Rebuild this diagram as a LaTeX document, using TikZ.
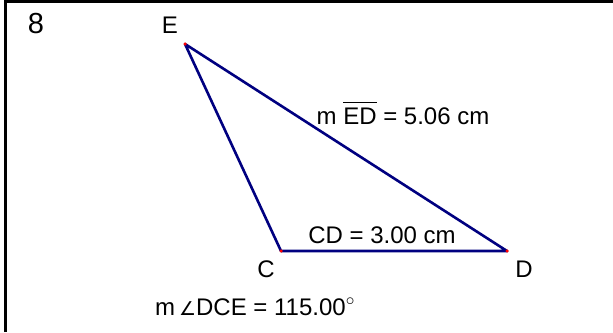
\documentclass[tikz,border=0pt]{standalone}
\usepackage{fontspec}
\setmainfont{Liberation Sans}
\newfontfamily\symbolfont{DejaVu Sans}
\usetikzlibrary{positioning}
\definecolor{segblue}{RGB}{0,0,128}

\begin{document}
\begin{tikzpicture}[
  x=1pt,y=-1pt,
  font=\fontsize{24}{28}\selectfont,
  seg/.style={draw=segblue,line width=2.6pt,line join=round},
  vertex/.style={circle,fill=red,inner sep=0pt,minimum size=3.5pt},
  frameline/.style={line width=3pt},
  measure/.style={inner sep=0pt,anchor=base},
  ptlabel/.style={inner sep=0pt,anchor=base}
]
\useasboundingbox (0,0) rectangle (613,332);
\draw[frameline] (5,332) -- (5,1.5) -- (613,1.5);

\node[ptlabel,font=\fontsize{29}{32}\selectfont] (num) at (36,33) {8};

% triangle
\coordinate (E) at (185,44);
\coordinate (C) at (281,251);
\coordinate (D) at (507,251);
\draw[seg] (E) -- (C) -- (D) -- cycle;
\node[vertex] (Edot) at (E) {};
\node[vertex] (Cdot) at (C) {};
\node[vertex] (Ddot) at (D) {};

\node[ptlabel] (Elabel) at (170,33) {E};
\node[ptlabel] (Clabel) at (266,277) {C};
\node[ptlabel] (Dlabel) at (524,277) {D};

% measurements
\node[measure] (ED) at (403,124)
  {m $\overline{\mbox{ED}\rule{0pt}{0.84em}}$ = 5.06 cm};
\node[measure] (CD) at (382,243) {CD = 3.00 cm};
\node[measure] (DCE) at (255,315)
  {m\,{\symbolfont\fontsize{19}{20}\selectfont ∠}DCE = 115.00$^{\circ}$};
\end{tikzpicture}
\end{document}
